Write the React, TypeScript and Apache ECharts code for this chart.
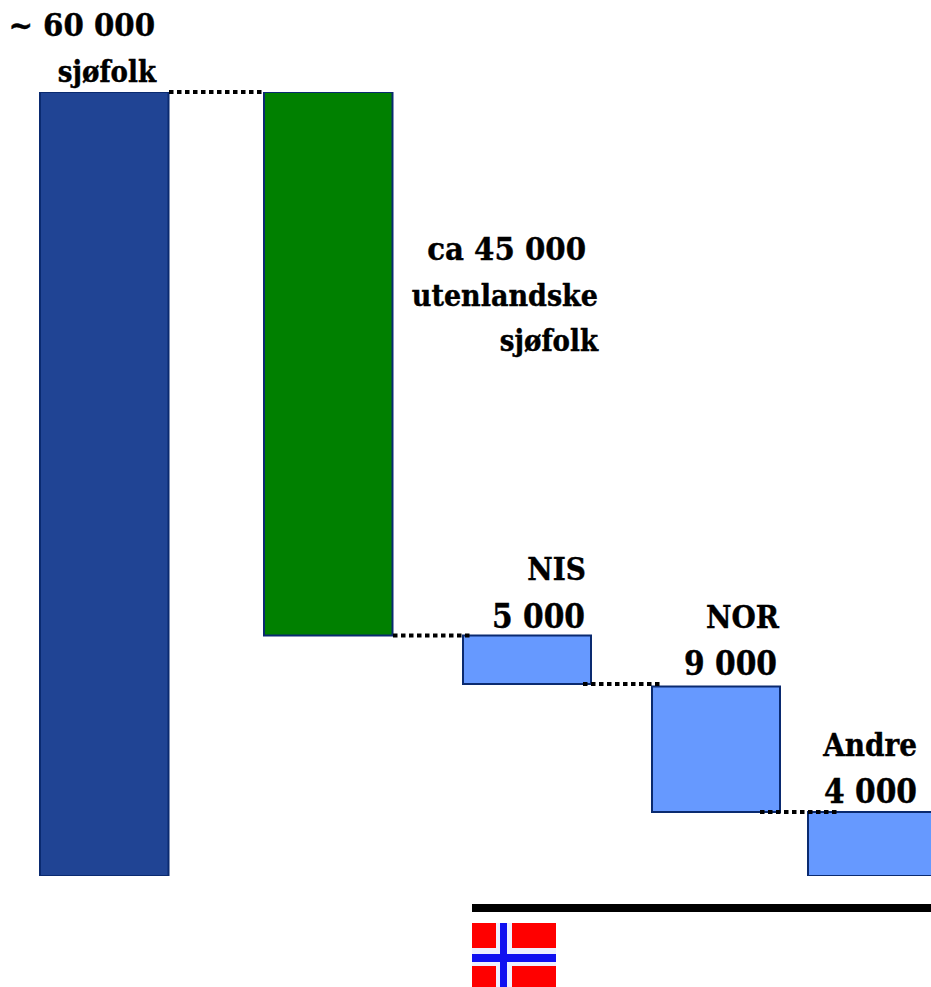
import React, { useEffect, useRef } from "react";
import * as echarts from "echarts";

// Bars as drawn (the picture's heights, in sjøfolk)
const categories = ["Totalt", "Utenlandske", "NIS", "NOR", "Andre"];
const barHigh = [60000, 60000, 18400, 14500, 4900];
const barLow = [0, 18400, 14700, 4900, 0];
const connectorLevel = [60000, 18400, 14700, 4900];

const barColors = ["#204494", "#008000", "#6699ff", "#6699ff", "#6699ff"];
const barEdge = "#0a2a70";

// Horizontal layout (pixels in the x scale)
const barLeft = [40, 264, 463, 652, 808];
const barRight = [168.5, 392.5, 591, 780, 940];
const connectorFrom = [169, 393, 583, 760];
const connectorTo = [262, 470, 660, 838];

const labelTexts = [
  "~ 60 000", "sjøfolk", "ca 45 000", "utenlandske", "sjøfolk",
  "NIS", "5 000", "NOR", "9 000", "Andre", "4 000",
];
const labelRight = [155, 156, 586, 598, 598, 586, 585, 779, 777, 917, 917];
const labelBaseline = [37, 83, 261, 307, 352, 580, 629, 628, 676, 756, 804];
const labelSize = [32.5, 29, 32.5, 30, 29, 31, 33, 31, 33, 31, 33];

const FONT = "'DejaVu Serif Condensed', 'DejaVu Serif', serif";

export default function App() {
  const ref = useRef<HTMLDivElement>(null);
  useEffect(() => {
    document.body.style.margin = "0";
    const chart = echarts.init(ref.current!, undefined, { renderer: "svg" });
    chart.setOption({
      animation: false,
      backgroundColor: "#ffffff",
      grid: { left: 0, top: 92, width: 931, height: 784 },
      xAxis: { type: "value", min: 0, max: 931, show: false },
      yAxis: { type: "value", min: 0, max: 60000, show: false },
      series: [
        {
          type: "custom",
          name: "Sjøfolk",
          clip: true,
          data: categories.map((c, i) => ({ name: c, value: [barLeft[i], barRight[i], barLow[i], barHigh[i]] })),
          encode: { x: [0, 1], y: [2, 3] },
          renderItem: (p: any, api: any) => {
            const a = api.coord([api.value(0), api.value(3)]);
            const b = api.coord([api.value(1), api.value(2)]);
            return {
              type: "rect",
              shape: { x: a[0], y: a[1], width: b[0] - a[0], height: b[1] - a[1] },
              style: { fill: barColors[p.dataIndex], stroke: barEdge, lineWidth: 2 },
            };
          },
        },
        {
          type: "custom",
          name: "Forbindelser",
          clip: false,
          z: 5,
          data: connectorLevel.map((v, i) => [connectorFrom[i], connectorTo[i], v]),
          encode: { x: [0, 1], y: 2 },
          renderItem: (_p: any, api: any) => {
            const a = api.coord([api.value(0), api.value(2)]);
            const b = api.coord([api.value(1), api.value(2)]);
            return {
              type: "line",
              shape: { x1: a[0], y1: a[1], x2: b[0], y2: b[1] },
              style: { stroke: "#000000", lineWidth: 4, lineDash: [4.5, 3.5] },
            };
          },
        },
      ],
      graphic: [
        ...labelTexts.map((t, i) => ({
          type: "text",
          x: labelRight[i],
          y: labelBaseline[i] - labelSize[i] * 0.37,
          z: 10,
          style: {
            text: t,
            fill: "#000000",
            stroke: "#000000",
            lineWidth: 0.4,
            font: `bold ${labelSize[i]}px ${FONT}`,
            align: "right",
            verticalAlign: "middle",
          },
        })),
        { type: "rect", shape: { x: 472, y: 904, width: 459, height: 8 }, style: { fill: "#000000" } },
        { type: "rect", shape: { x: 472, y: 923, width: 84, height: 64 }, style: { fill: "#ff0000" } },
        { type: "rect", shape: { x: 496, y: 923, width: 16, height: 64 }, style: { fill: "#eef0ff" } },
        { type: "rect", shape: { x: 472, y: 948, width: 84, height: 18 }, style: { fill: "#eef0ff" } },
        { type: "rect", shape: { x: 500, y: 923, width: 7, height: 64 }, style: { fill: "#1010f0" } },
        { type: "rect", shape: { x: 472, y: 954, width: 84, height: 8 }, style: { fill: "#1010f0" } },
      ],
    });
    return () => chart.dispose();
  }, []);
  return <div ref={ref} style={{ width: 931, height: 987 }} />;
}
